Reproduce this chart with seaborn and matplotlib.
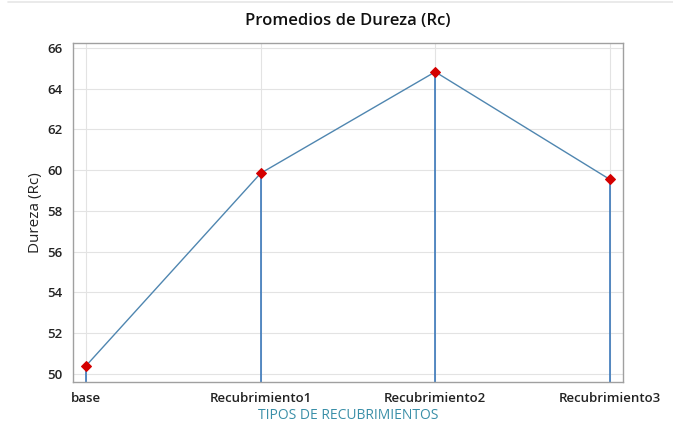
import matplotlib
matplotlib.use("Agg")
import matplotlib.pyplot as plt
import seaborn as sns
import pandas as pd

categorias = ["base", "Recubrimiento1", "Recubrimiento2", "Recubrimiento3"]
dureza = [50.4, 59.85, 64.83, 59.55]
y_ticks = [50, 52, 54, 56, 58, 60, 62, 64, 66]

sns.set_style("white")
plt.rcParams['font.family'] = ['Open Sans', 'DejaVu Sans']

df = pd.DataFrame({"tipo": categorias, "dureza": dureza})

fig = plt.figure(figsize=(6.73, 4.33), dpi=100)
ax = fig.add_axes([0.1085, 0.1178, 0.817, 0.783])

ymin, ymax = 49.6, 66.25
xs = list(range(len(categorias)))

ax.vlines(xs, ymin, df["dureza"], color="#2a6db5", lw=1.1, zorder=2)
sns.lineplot(data=df, x="tipo", y="dureza", ax=ax, color="#4f86b0", lw=1.0,
             marker="D", markersize=5.5, markerfacecolor="#d40000",
             markeredgecolor="#d40000", zorder=3, sort=False)

ax.set_xlim(-0.075, len(categorias) - 1 + 0.075)
ax.set_ylim(ymin, ymax)
ax.set_yticks(y_ticks)
ax.set_xticks(xs)
ax.set_xticklabels(categorias)

ax.grid(True, color="#e3e3e3", lw=0.8)
ax.set_axisbelow(True)
for s in ax.spines.values():
    s.set_color("#a0a0a0")
    s.set_linewidth(1.0)

ax.tick_params(axis="both", labelsize=9.5, colors="#222222", length=4,
               width=0.8, direction="out")
ax.tick_params(axis="y", color="#a0a0a0")
ax.tick_params(axis="x", color="#2a6db5")
for lab in ax.get_xticklabels() + ax.get_yticklabels():
    lab.set_fontweight("semibold")

ax.set_title("Promedios de Dureza (Rc)", fontsize=12, pad=13, color="#111111",
             fontweight="semibold")
ax.set_xlabel("TIPOS DE RECUBRIMIENTOS", fontsize=10, color="#3a8fa8", labelpad=2)
ax.set_ylabel("Dureza (Rc)", fontsize=11, color="#222222", labelpad=3)

fig.add_artist(plt.Line2D([0.012, 1.0], [0.995, 0.995], color="#e6e6e6", lw=1.2))

fig.savefig("out.png", dpi=100)
